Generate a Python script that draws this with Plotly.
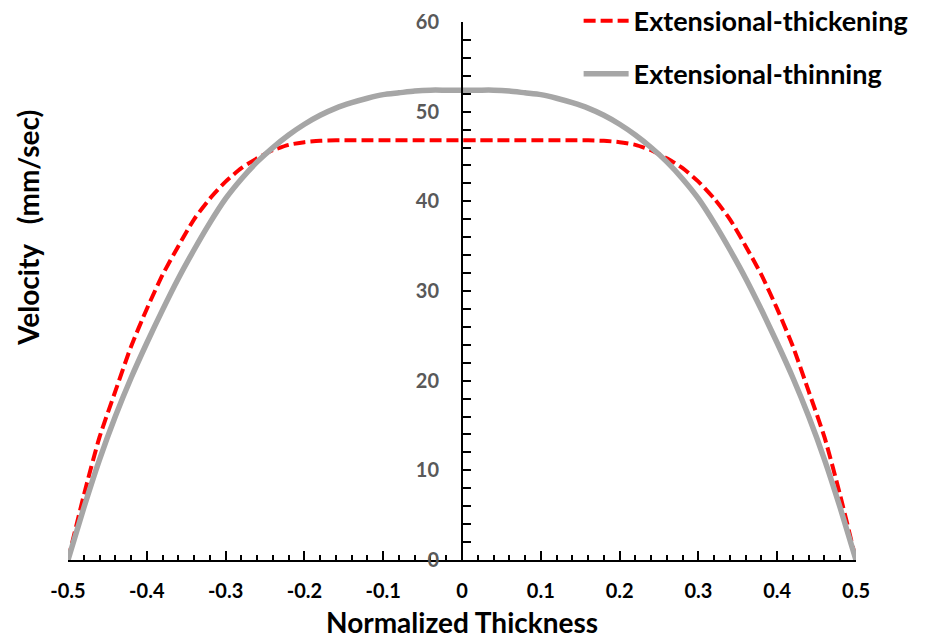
import plotly.graph_objects as go

# Normalized thickness positions
x_vals = [-0.50, -0.48, -0.46, -0.44, -0.42, -0.40, -0.38, -0.36, -0.34, -0.32,
          -0.30, -0.28, -0.26, -0.24, -0.22, -0.20, -0.18, -0.16, -0.14, -0.12,
          -0.10, -0.08, -0.06, -0.04, -0.02, 0.00, 0.02, 0.04, 0.06, 0.08,
          0.10, 0.12, 0.14, 0.16, 0.18, 0.20, 0.22, 0.24, 0.26, 0.28,
          0.30, 0.32, 0.34, 0.36, 0.38, 0.40, 0.42, 0.44, 0.46, 0.48, 0.50]

# Extensional-thickening velocity (mm/sec)
v_thickening = [0.0, 7.2, 13.7, 18.8, 23.8, 28.0, 31.8, 35.0, 38.0, 40.3,
                42.2, 43.7, 44.8, 45.7, 46.3, 46.6, 46.75, 46.8, 46.8, 46.8,
                46.8, 46.8, 46.8, 46.8, 46.8, 46.8, 46.8, 46.8, 46.8, 46.8,
                46.8, 46.8, 46.8, 46.8, 46.75, 46.6, 46.3, 45.7, 44.8, 43.7,
                42.2, 40.3, 38.0, 35.0, 31.8, 28.0, 23.8, 18.8, 13.7, 7.2, 0.0]

# Extensional-thinning velocity (mm/sec)
v_thinning = [0.0, 5.8, 11.2, 16.0, 20.3, 24.2, 27.9, 31.4, 34.6, 37.6,
              40.3, 42.5, 44.4, 46.0, 47.4, 48.6, 49.6, 50.4, 51.0, 51.5,
              51.9, 52.1, 52.3, 52.4, 52.4, 52.4, 52.4, 52.4, 52.3, 52.1,
              51.9, 51.5, 51.0, 50.4, 49.6, 48.6, 47.4, 46.0, 44.4, 42.5,
              40.3, 37.6, 34.6, 31.4, 27.9, 24.2, 20.3, 16.0, 11.2, 5.8, 0.0]

x_ticks = [-0.5, -0.4, -0.3, -0.2, -0.1, 0, 0.1, 0.2, 0.3, 0.4, 0.5]
x_tick_text = ["-0.5", "-0.4", "-0.3", "-0.2", "-0.1", "0", "0.1", "0.2", "0.3", "0.4", "0.5"]
y_ticks = [0, 10, 20, 30, 40, 50, 60]

FONT = "Lato, 'Open Sans', sans-serif"

fig = go.Figure()
fig.add_trace(go.Scatter(
    x=x_vals, y=v_thickening, mode="lines", name="Extensional-thickening",
    line=dict(color="#FF0000", width=4, dash="12px,5px", shape="spline", smoothing=0.6),
    legendgroup="a",
))
fig.add_trace(go.Scatter(
    x=x_vals, y=v_thinning, mode="lines", name="Extensional-thinning",
    line=dict(color="#A6A6A6", width=5.5, shape="spline", smoothing=0.6),
    legendgroup="b",
))

fig.update_layout(
    width=933, height=640,
    margin=dict(l=68, r=77, t=22, b=80, autoexpand=False),
    paper_bgcolor="white", plot_bgcolor="white",
    showlegend=True,
    legend=dict(
        x=0.648, y=1.047, xanchor="left", yanchor="top",
        font=dict(family=FONT, size=27, color="black", weight="bold"),
        bgcolor="rgba(0,0,0,0)", tracegroupgap=15, itemwidth=45,
    ),
    xaxis=dict(
        range=[-0.5, 0.5], domain=[0, 1],
        tickmode="array", tickvals=x_ticks, ticktext=x_tick_text,
        ticks="inside", ticklen=9, tickwidth=2, tickcolor="black",
        minor=dict(dtick=0.02, ticks="inside", ticklen=5, tickwidth=2, tickcolor="black"),
        showline=True, linecolor="black", linewidth=2,
        showgrid=False, zeroline=False,
        tickfont=dict(family=FONT, size=20, color="black", weight="bold"),
        ticklabelstandoff=12,
    ),
    yaxis=dict(
        range=[0, 60], anchor="free", position=0.5, side="left",
        tickmode="array", tickvals=y_ticks,
        ticks="inside", ticklen=8, tickwidth=2, tickcolor="black",
        minor=dict(dtick=2, ticks="inside", ticklen=8, tickwidth=2, tickcolor="black"),
        showline=True, linecolor="black", linewidth=2,
        showgrid=False, zeroline=False,
        tickfont=dict(family=FONT, size=20, color="#595959", weight="bold"),
        ticklabelstandoff=18,
    ),
    annotations=[
        dict(text="Normalized Thickness", xref="paper", yref="paper", x=0.5, y=-0.1152,
             xanchor="center", yanchor="middle", showarrow=False,
             font=dict(family=FONT, size=28, color="black", weight="bold")),
        dict(text="Velocity\u00a0\u00a0 (mm/sec)", xref="paper", yref="paper", x=-0.051, y=0.617,
             xanchor="center", yanchor="middle", textangle=-90, showarrow=False,
             font=dict(family=FONT, size=28, color="black", weight="bold")),
    ],
)

fig.write_html("out.html")
